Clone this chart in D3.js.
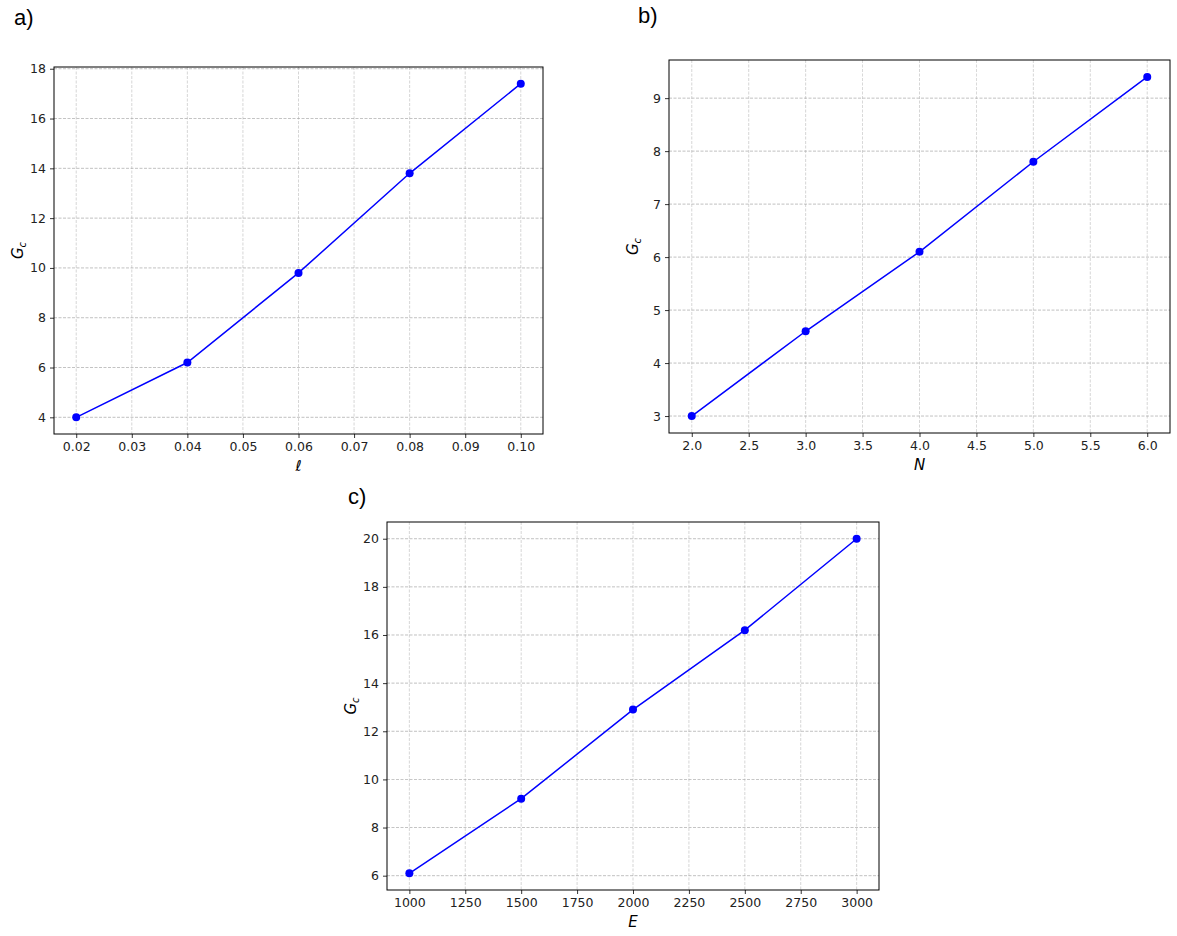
<!DOCTYPE html>
<html>
<head>
<meta charset="utf-8">
<script src="https://cdn.jsdelivr.net/npm/d3@7"></script>
<style>
  body { margin: 0; background: #fff; }
  svg { font-family: "DejaVu Sans", sans-serif; }
</style>
</head>
<body>
<script>
const lenX = [0.02, 0.04, 0.06, 0.08, 0.10];
const lenG = [4.0, 6.2, 9.8, 13.8, 17.4];
const lenXTicks = [0.02, 0.03, 0.04, 0.05, 0.06, 0.07, 0.08, 0.09, 0.10];
const lenYTicks = [4, 6, 8, 10, 12, 14, 16, 18];

const nX = [2, 3, 4, 5, 6];
const nG = [3.0, 4.6, 6.1, 7.8, 9.4];
const nXTicks = [2.0, 2.5, 3.0, 3.5, 4.0, 4.5, 5.0, 5.5, 6.0];
const nYTicks = [3, 4, 5, 6, 7, 8, 9];

const eX = [1000, 1500, 2000, 2500, 3000];
const eG = [6.1, 9.2, 12.9, 16.2, 20.0];
const eXTicks = [1000, 1250, 1500, 1750, 2000, 2250, 2500, 2750, 3000];
const eYTicks = [6, 8, 10, 12, 14, 16, 18, 20];

const svg = d3.select("body").append("svg")
    .attr("width", 1177)
    .attr("height", 936);

// panel boxes
const panels = [
    {tag: "a)", tagX: 14, tagY: 25, box: [54, 67, 543, 434], xs: lenX, ys: lenG,
     xt: lenXTicks, yt: lenYTicks, xfmt: d3.format(".2f"), yfmt: d3.format("d"), xlab: "ℓ"},
    {tag: "b)", tagX: 638, tagY: 23, box: [669, 60, 1170, 433], xs: nX, ys: nG,
     xt: nXTicks, yt: nYTicks, xfmt: d3.format(".1f"), yfmt: d3.format("d"), xlab: "N"},
    {tag: "c)", tagX: 348, tagY: 504, box: [387, 522, 879, 890], xs: eX, ys: eG,
     xt: eXTicks, yt: eYTicks, xfmt: d3.format("d"), yfmt: d3.format("d"), xlab: "E"}
];

function pad(ext) {
    const m = (ext[1] - ext[0]) * 0.05;
    return [ext[0] - m, ext[1] + m];
}

panels.forEach(p => {
    const [x0, y0, x1, y1] = p.box;
    const x = d3.scaleLinear().domain(pad(d3.extent(p.xs))).range([x0, x1]);
    const y = d3.scaleLinear().domain(pad(d3.extent(p.ys))).range([y1, y0]);

    const g = svg.append("g");

    // grid
    g.append("g").selectAll("line").data(p.xt).join("line")
        .attr("x1", d => x(d)).attr("x2", d => x(d))
        .attr("y1", y0).attr("y2", y1)
        .attr("stroke", "#c0c0c0").attr("stroke-width", 0.8)
        .attr("stroke-dasharray", "3,1.5").attr("opacity", 0.8);
    g.append("g").selectAll("line").data(p.yt).join("line")
        .attr("x1", x0).attr("x2", x1)
        .attr("y1", d => y(d)).attr("y2", d => y(d))
        .attr("stroke", "#a0a0a0").attr("stroke-width", 0.8)
        .attr("stroke-dasharray", "3,1.5").attr("opacity", 0.8);

    // axes
    const xAxis = g.append("g")
        .attr("transform", "translate(0," + y1 + ")")
        .call(d3.axisBottom(x).tickValues(p.xt).tickFormat(p.xfmt).tickSize(4).tickPadding(4).tickSizeOuter(0));
    const yAxis = g.append("g")
        .attr("transform", "translate(" + x0 + ",0)")
        .call(d3.axisLeft(y).tickValues(p.yt).tickFormat(p.yfmt).tickSize(4).tickPadding(4).tickSizeOuter(0));
    xAxis.select(".domain").remove();
    yAxis.select(".domain").remove();
    [xAxis, yAxis].forEach(a => a.attr("font-family", "DejaVu Sans").attr("font-size", 12.5));
    g.selectAll(".tick text").attr("fill", "#222");
    g.selectAll(".tick line").attr("stroke", "#000").attr("stroke-width", 0.8);

    g.append("rect")
        .attr("x", x0).attr("y", y0)
        .attr("width", x1 - x0).attr("height", y1 - y0)
        .attr("fill", "none").attr("stroke", "#000").attr("stroke-width", 1);

    // line + markers
    const pts = p.xs.map((d, i) => [d, p.ys[i]]);
    g.append("path")
        .datum(pts)
        .attr("fill", "none")
        .attr("stroke", "#0000ff")
        .attr("stroke-width", 1.5)
        .attr("d", d3.line().x(d => x(d[0])).y(d => y(d[1])));
    g.selectAll("circle.pt").data(pts).join("circle")
        .attr("class", "pt")
        .attr("cx", d => x(d[0])).attr("cy", d => y(d[1]))
        .attr("r", 4).attr("fill", "#0000ff");

    // labels
    g.append("text")
        .attr("x", (x0 + x1) / 2).attr("y", y1 + 37)
        .attr("text-anchor", "middle")
        .style("font-size", "15px").style("font-style", "italic")
        .text(p.xlab);

    const yl = g.append("text")
        .attr("transform", "translate(" + (x0 - 31) + "," + ((y0 + y1) / 2) + ") rotate(-90)")
        .attr("text-anchor", "middle")
        .style("font-size", "15px");
    yl.append("tspan").style("font-style", "italic").text("G");
    yl.append("tspan").style("font-style", "italic").style("font-size", "10px").attr("dy", 3).text("c");

    svg.append("text")
        .attr("x", p.tagX).attr("y", p.tagY)
        .style("font-family", "Liberation Sans, Arial, sans-serif")
        .style("font-size", "22px")
        .text(p.tag);
});
</script>
</body>
</html>
